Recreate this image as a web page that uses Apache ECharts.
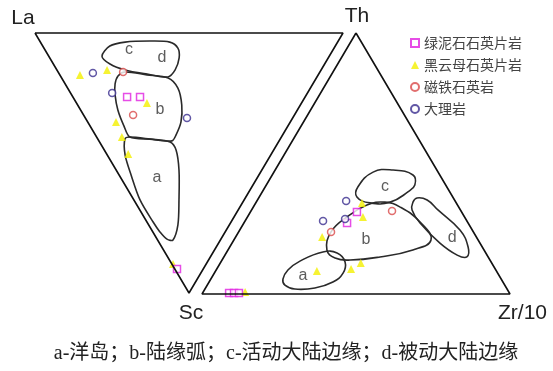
<!DOCTYPE html>
<html>
<head>
<meta charset="utf-8">
<title>La-Th-Sc / Th-Sc-Zr/10</title>
<script src="https://cdn.jsdelivr.net/npm/echarts@6/dist/echarts.min.js"></script>
<style>html,body{margin:0;padding:0;background:#fff;}</style>
</head>
<body>
<div id="main" style="width:553px;height:371px;"></div>
<script>
// legend names
var names = ['绿泥石石英片岩', '黑云母石英片岩', '磁铁石英岩', '大理岩'];

// left triangle, values as [La, Th, Sc]
var frameL = [[100, 0, 0], [0, 100, 0], [0, 0, 100], [100, 0, 0]];
var chloriteL = [[57.8, 17.6, 24.6], [53.6, 21.8, 24.6], [8.5, 0.7, 90.8]];
var biotiteL = [[77.3, 6.5, 16.2], [69.5, 16.3, 14.2], [50.2, 22.9, 26.9], [56.6, 9.2, 34.2], [51.8, 8.2, 40], [46.5, 7, 46.5], [10.8, 0.4, 88.8]];
var magnetiteL = [[63.9, 21.1, 15], [52.4, 16.1, 31.5]];
var marbleL = [[73.5, 11.1, 15.4], [63.4, 13.5, 23.1], [34.3, 33, 32.7]];

var fieldCDL = [[73.8, 17.3, 8.9], [73.2, 21.8, 5], [69, 27.5, 3.5], [61.2, 35.7, 3.1], [54.5, 42, 3.5], [50.7, 43.5, 5.8], [48.4, 42, 9.6], [47.4, 38.4, 14.2], [48.4, 34.7, 16.9], [55.7, 28.5, 15.8], [63.7, 22.1, 14.2], [69.7, 18.4, 11.9]];
var fieldBL = [[64.8, 18.7, 16.5], [63.3, 21.7, 15], [55.6, 28.3, 16.1], [48.1, 34.6, 17.3], [43, 35.8, 21.2], [38.5, 33.8, 27.7], [35.5, 30.3, 34.2], [34.6, 26.2, 39.2], [34.8, 23.7, 41.5], [42.3, 16.9, 40.8], [49.2, 10.8, 40], [53.2, 11, 35.8], [58.3, 12.1, 29.6], [62.1, 14.1, 23.8], [64.2, 16.2, 19.6]];
var fieldAL = [[50.4, 8.8, 40.8], [49.2, 10.8, 40], [42.3, 16.9, 40.8], [35.2, 22.9, 41.9], [31.7, 23.3, 45], [26.9, 20.4, 52.7], [21.1, 14.6, 64.2], [16.7, 9.5, 73.8], [15.4, 5, 79.6], [17.5, 3.2, 79.3], [21.2, 2.3, 76.5], [25.3, 2, 72.7], [33.8, 2, 64.2], [41.5, 3.9, 54.6], [47.3, 5.8, 46.9]];
var labelNamesL = ['c', 'd', 'b', 'a'];
var labelPosL = [[66.2, 27.3, 6.5], [54, 36.4, 9.6], [44.6, 25.8, 29.6], [32.5, 11.7, 55.8]];

// right triangle, values as [Th, Sc, Zr/10]
var frameR = [[100, 0, 0], [0, 100, 0], [0, 0, 100], [100, 0, 0]];
var chloriteR = [[31.4, 34, 34.6], [27.2, 39.3, 33.5], [0.4, 91, 8.6], [0.4, 89.4, 10.2], [0.4, 87.8, 11.8]];
var biotiteR = [[34.9, 30.6, 34.5], [29.5, 33, 37.5], [21.8, 50.1, 28.1], [8.8, 58.3, 32.9], [9.6, 46.8, 43.6], [11.9, 42.5, 45.6], [0.8, 85.6, 13.6]];
var magnetiteR = [[23.8, 46.2, 30], [31.8, 22.4, 45.8]];
var marbleR = [[35.6, 35.4, 29], [28, 46.7, 25.3], [28.7, 39.2, 32.1]];

var fieldCR = [[37.2, 31.1, 31.7], [41, 28.9, 30.1], [46.7, 21.1, 32.2], [47.5, 14.2, 38.3], [45.6, 8.7, 45.7], [41.8, 10, 48.2], [39.1, 13.6, 47.3], [35.2, 21.3, 43.5], [34.9, 28, 37.1]];
var fieldBR = [[16.9, 51, 32.1], [23.8, 46.2, 30], [29.5, 38.2, 32.3], [34.1, 29.4, 36.5], [35.2, 23, 41.8], [33.3, 19, 47.7], [27.6, 15.4, 57], [20.7, 15.3, 64], [16.9, 23.1, 60], [14.2, 35.1, 50.7], [13, 45.4, 41.6], [13.8, 49.9, 36.3]];
var fieldDR = [[35.2, 13.9, 50.9], [36.8, 11.8, 51.4], [36, 8.9, 55.1], [32.2, 7.3, 60.5], [24.5, 4, 71.5], [18, 4.6, 77.4], [14.2, 6.9, 78.9], [14.9, 9.7, 75.4], [19.5, 13, 67.5], [27.2, 15.6, 57.2], [32.2, 15.7, 52.1]];
var fieldAR = [[5.7, 70.8, 23.4], [9.2, 67.5, 23.3], [12.6, 61.9, 25.5], [16.1, 52.7, 31.2], [15.7, 48.3, 36], [12.3, 47.4, 40.3], [8, 50.2, 41.8], [4.6, 55.2, 40.2], [2.3, 62.2, 35.5], [1.9, 68.9, 29.2], [3.4, 71.3, 25.2]];
var labelNamesR = ['c', 'b', 'd', 'a'];
var labelPosR = [[41, 20.1, 38.9], [20.7, 36.4, 42.9], [21.8, 7.9, 70.3], [6.9, 63.8, 29.3]];

var caption = 'a-洋岛；b-陆缘弧；c-活动大陆边缘；d-被动大陆边缘';

// ternary -> unit xy
function toL(p) { var s = p[0] + p[1] + p[2]; return [(p[1] + 0.5 * p[2]) / s, (p[0] + p[1]) / s]; }
function toR(p) { var s = p[0] + p[1] + p[2]; return [(p[2] + 0.5 * p[0]) / s, p[0] / s]; }

var styles = [
    { symbol: 'rect', symbolSize: 7, itemStyle: { color: '#fff', borderColor: '#e020e0', borderWidth: 1.5 } },
    { symbol: 'triangle', symbolSize: 8, itemStyle: { color: '#f4f000' } },
    { symbol: 'circle', symbolSize: 7, itemStyle: { color: '#fff', borderColor: '#d94a4a', borderWidth: 1.5 } },
    { symbol: 'circle', symbolSize: 7, itemStyle: { color: '#fff', borderColor: '#3a2d8e', borderWidth: 1.5 } }
];

function frameSeries(frame, conv, idx) {
    return {
        type: 'line', xAxisIndex: idx, yAxisIndex: idx, symbol: 'none', clip: false, silent: true,
        lineStyle: { color: '#111', width: 1.6 },
        data: frame.map(conv)
    };
}

function fieldSeries(fields, conv, idx, smooth) {
    return {
        type: 'custom', xAxisIndex: idx, yAxisIndex: idx, clip: false, silent: true,
        data: fields.map(function (f) { return conv(f[0]); }),
        renderItem: function (params, api) {
            var pts = fields[params.dataIndex].map(function (p) { return api.coord(conv(p)); });
            return { type: 'polygon', shape: { points: pts, smooth: smooth }, style: { fill: 'none', stroke: '#2a2a2a', lineWidth: 1.6 } };
        }
    };
}

function labelSeries(labels, pos, conv, idx) {
    return {
        type: 'scatter', xAxisIndex: idx, yAxisIndex: idx, symbolSize: 0, silent: true, clip: false,
        label: { show: true, position: 'inside', formatter: '{b}', fontSize: 16, color: '#333', fontFamily: 'Liberation Sans' },
        data: pos.map(function (p, i) { return { name: labels[i], value: conv(p) }; })
    };
}

function pointSeries(i, data, conv, idx) {
    var s = styles[i];
    return {
        name: names[i], type: 'scatter', xAxisIndex: idx, yAxisIndex: idx, clip: false,
        symbol: s.symbol, symbolSize: s.symbolSize, itemStyle: s.itemStyle,
        data: data.map(conv)
    };
}

var chart = echarts.init(document.getElementById('main'));
var axisX = { type: 'value', min: 0, max: 1, show: false };
var axisY = { type: 'value', min: 0, max: 1, show: false };
var txt = function (t, x, y, size, align) {
    return { type: 'text', x: x, y: y, style: { text: t, fontSize: size, fill: '#222', fontFamily: 'Liberation Sans', align: align || 'center', verticalAlign: 'middle' } };
};

chart.setOption({
    animation: false,
    grid: [
        { left: 35, top: 33, width: 308, height: 260 },
        { left: 202, top: 33, width: 308, height: 261 }
    ],
    xAxis: [Object.assign({ gridIndex: 0 }, axisX), Object.assign({ gridIndex: 1 }, axisX)],
    yAxis: [Object.assign({ gridIndex: 0 }, axisY), Object.assign({ gridIndex: 1 }, axisY)],
    legend: {
        data: names, orient: 'vertical', left: 405, top: 31,
        itemWidth: 8, itemHeight: 8, itemGap: 8,
        textStyle: { fontSize: 14, color: '#444', fontFamily: 'Noto Sans CJK SC' }
    },
    graphic: [
        txt('La', 23, 18, 21),
        txt('Th', 357, 16, 21),
        txt('Sc', 191, 313, 21),
        txt('Zr/10', 498, 313, 21, 'left'),
        { type: 'text', x: 286, y: 354, style: { text: caption, fontSize: 20, fill: '#222', fontFamily: "'Liberation Serif', 'Noto Sans CJK SC'", align: 'center', verticalAlign: 'middle' } }
    ],
    series: [
        frameSeries(frameL, toL, 0),
        frameSeries(frameR, toR, 1),
        fieldSeries([fieldCDL, fieldBL, fieldAL], toL, 0, 0.3),
        fieldSeries([fieldCR, fieldBR, fieldDR, fieldAR], toR, 1, 0.45),
        labelSeries(labelNamesL, labelPosL, toL, 0),
        labelSeries(labelNamesR, labelPosR, toR, 1),
        pointSeries(1, biotiteL, toL, 0),
        pointSeries(1, biotiteR, toR, 1),
        pointSeries(0, chloriteL, toL, 0),
        pointSeries(0, chloriteR, toR, 1),
        pointSeries(2, magnetiteL, toL, 0),
        pointSeries(2, magnetiteR, toR, 1),
        pointSeries(3, marbleL, toL, 0),
        pointSeries(3, marbleR, toR, 1)
    ]
});
</script>
</body>
</html>
